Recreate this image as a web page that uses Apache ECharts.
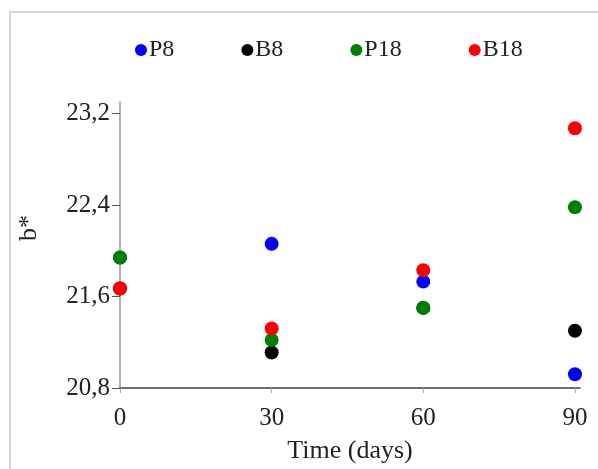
<!DOCTYPE html>
<html>
<head>
<meta charset="utf-8">
<script src="https://cdn.jsdelivr.net/npm/echarts@6/dist/echarts.min.js"></script>
<style>
  html, body { margin: 0; padding: 0; background: #fff; }
  #chart { width: 598px; height: 469px; }
</style>
</head>
<body>
<div id="chart"></div>
<script>
// data
const days = [0, 30, 60, 90]
const p8 = [21.94, 22.06, 21.73, 20.92]
const b8 = [21.67, 21.11, 21.50, 21.30]
const p18 = [21.94, 21.22, 21.50, 22.38]
const b18 = [21.67, 21.32, 21.83, 23.07]
const yTicks = [20.8, 21.6, 22.4, 23.2]
const xTicks = [0, 30, 60, 90]

const font = '"Liberation Serif", "Times New Roman", serif'
const chart = echarts.init(document.getElementById('chart'))

const pairs = (vals) => days.map((d, i) => [d, vals[i]])

const makeSeries = (name, vals, color) => ({
  name: name,
  type: 'scatter',
  data: pairs(vals),
  symbolSize: 14,
  itemStyle: { color: color, opacity: 1 },
  clip: false
})

const options = {
  animation: false,
  textStyle: { fontFamily: font },
  graphic: [
    {
      type: 'rect',
      shape: { x: 10, y: 12, width: 620, height: 500 },
      style: { fill: 'none', stroke: '#d6d6d6', lineWidth: 2 },
      z: -1
    }
  ],
  legend: {
    left: 130,
    top: 33,
    icon: 'circle',
    itemWidth: 12,
    itemHeight: 12,
    itemGap: 67,
    textStyle: { fontFamily: font, fontSize: 24, color: '#222', padding: [0, 0, 0, -3] }
  },
  grid: { left: 120, top: 102, width: 460, height: 287, containLabel: false },
  xAxis: {
    type: 'value',
    min: 0,
    max: 91,
    name: 'Time (days)',
    nameLocation: 'middle',
    nameGap: 50,
    nameTextStyle: { fontFamily: font, fontSize: 26, color: '#222' },
    splitLine: { show: false },
    axisLine: { show: true, lineStyle: { color: '#404040', width: 1.5 } },
    axisTick: { show: true, length: 5, customValues: xTicks, lineStyle: { color: '#aaa' } },
    axisLabel: { customValues: xTicks, margin: 18, fontFamily: font, fontSize: 25, color: '#222' }
  },
  yAxis: {
    type: 'value',
    min: 20.8,
    max: 23.3,
    name: 'b*',
    nameLocation: 'middle',
    nameRotate: 90,
    nameGap: 78,
    nameTextStyle: { fontFamily: font, fontSize: 26, color: '#222', padding: [0, 0, 0, 34] },
    splitLine: { show: false },
    axisLine: { show: true, lineStyle: { color: '#999', width: 1.5 } },
    axisTick: { show: true, length: 8, customValues: yTicks, lineStyle: { color: '#555' } },
    axisLabel: {
      customValues: yTicks,
      margin: 10,
      fontFamily: font,
      fontSize: 25,
      color: '#222',
      formatter: (v) => v.toFixed(1).replace('.', ',')
    }
  },
  series: [
    makeSeries('P8', p8, '#0000ff'),
    makeSeries('B8', b8, '#000000'),
    makeSeries('P18', p18, '#008000'),
    makeSeries('B18', b18, '#ff0000')
  ]
}

chart.setOption(options)
</script>
</body>
</html>
